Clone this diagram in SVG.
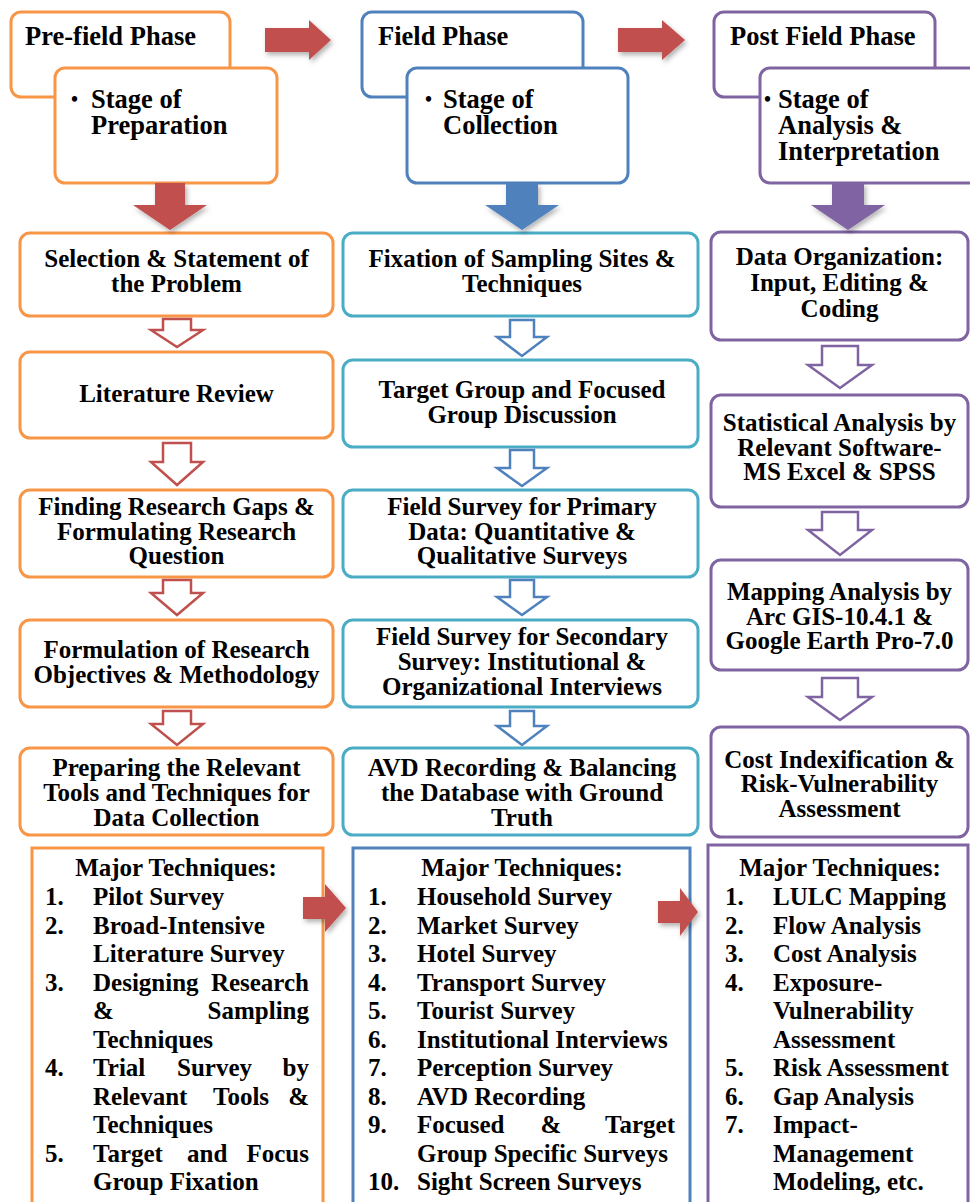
<svg xmlns="http://www.w3.org/2000/svg" width="970" height="1202" viewBox="0 0 970 1202">
<defs>
  <filter id="shadow" x="-40%" y="-40%" width="180%" height="180%">
    <feDropShadow dx="2" dy="3" stdDeviation="2.5" flood-color="#000" flood-opacity="0.3"/>
  </filter>
</defs>
<style>
  text { font-family: "Liberation Serif", "Times New Roman", serif; font-weight: bold; fill: #000; }
  .t { font-size: 25px; }
  .h { font-size: 26.5px; }
  .b { font-size: 20px; }
  .c { text-anchor: middle; }
  .e { text-anchor: end; }
  .box { fill: #fff; stroke-width: 3; }
  .or { stroke: #F79646; }
  .bl { stroke: #4F81BD; }
  .cy { stroke: #4BACC6; }
  .pu { stroke: #8064A2; }
  .hollow { fill: #fff; stroke-width: 2.5; }
  .solid { filter: url(#shadow); }
</style>
<rect width="970" height="1202" fill="#fff"/>

<!-- Phase headers -->
<g id="pre-field-phase">
  <rect class="box or" x="11" y="12" width="219" height="85" rx="10"/>
  <text class="h" x="25" y="45">Pre-field Phase</text>
</g>
<g id="stage-preparation">
  <rect class="box or" x="55" y="68" width="222" height="115" rx="10"/>
  <text class="h" x="71" y="108"><tspan class="b" dy="-2">•</tspan><tspan x="91" dy="2">Stage of</tspan><tspan x="91" dy="26">Preparation</tspan></text>
</g>
<g id="field-phase">
  <rect class="box bl" x="362" y="12" width="221" height="85" rx="10"/>
  <text class="h" x="378" y="45">Field Phase</text>
</g>
<g id="stage-collection">
  <rect class="box bl" x="407" y="68" width="221" height="115" rx="10"/>
  <text class="h" x="425" y="108"><tspan class="b" dy="-2">•</tspan><tspan x="443" dy="2">Stage of</tspan><tspan x="443" dy="26">Collection</tspan></text>
</g>
<g id="post-field-phase">
  <rect class="box pu" x="714" y="12" width="221" height="85" rx="10"/>
  <text class="h" x="730" y="45">Post Field Phase</text>
</g>
<g id="stage-analysis">
  <rect class="box pu" x="760" y="68" width="224" height="115" rx="10"/>
  <text class="h" x="764" y="108"><tspan class="b" dy="-2">•</tspan><tspan x="778" dy="2">Stage of</tspan><tspan x="778" dy="26">Analysis &amp;</tspan><tspan x="778" dy="26">Interpretation</tspan></text>
</g>

<!-- Pre-field column -->
<g id="selection">
  <rect class="box or" x="20" y="233" width="313" height="83" rx="10"/>
  <text class="t c" x="176.5" y="267">Selection &amp; Statement of<tspan x="176.5" dy="25">the Problem</tspan></text>
</g>
<g id="literature-review">
  <rect class="box or" x="20" y="352" width="313" height="86" rx="10"/>
  <text class="t c" x="176.5" y="402">Literature Review</text>
</g>
<g id="research-gaps">
  <rect class="box or" x="20" y="490" width="313" height="87" rx="10"/>
  <text class="t c" x="176.5" y="515">Finding Research Gaps &amp;<tspan x="176.5" dy="24.5">Formulating Research</tspan><tspan x="176.5" dy="24.5">Question</tspan></text>
</g>
<g id="objectives">
  <rect class="box or" x="20" y="620" width="313" height="87" rx="10"/>
  <text class="t c" x="176.5" y="658">Formulation of Research<tspan x="176.5" dy="25">Objectives &amp; Methodology</tspan></text>
</g>
<g id="tools">
  <rect class="box or" x="20" y="748" width="313" height="87" rx="10"/>
  <text class="t c" x="176.5" y="776">Preparing the Relevant<tspan x="176.5" dy="25">Tools and Techniques for</tspan><tspan x="176.5" dy="25">Data Collection</tspan></text>
</g>
<g id="pre-field-techniques">
  <rect class="box or" x="32" y="848" width="291" height="360"/>
  <text class="t c" x="176" y="876">Major Techniques:</text>
  <text class="t" x="45" y="905">1.</text><text class="t" x="93" y="905">Pilot Survey</text>
  <text class="t" x="45" y="933.5">2.</text><text class="t" x="93" y="933.5">Broad-Intensive</text>
  <text class="t" x="93" y="962">Literature Survey</text>
  <text class="t" x="45" y="990.5">3.</text><text class="t" x="93" y="990.5">Designing</text><text class="t e" x="309" y="990.5">Research</text>
  <text class="t" x="93" y="1019">&amp;</text><text class="t e" x="309" y="1019">Sampling</text>
  <text class="t" x="93" y="1047.5">Techniques</text>
  <text class="t" x="45" y="1076">4.</text><text class="t" x="93" y="1076">Trial</text><text class="t" x="177" y="1076">Survey</text><text class="t e" x="309" y="1076">by</text>
  <text class="t" x="93" y="1104.5">Relevant</text><text class="t" x="213" y="1104.5">Tools</text><text class="t e" x="309" y="1104.5">&amp;</text>
  <text class="t" x="93" y="1133">Techniques</text>
  <text class="t" x="45" y="1161.5">5.</text><text class="t" x="93" y="1161.5">Target</text><text class="t" x="187" y="1161.5">and</text><text class="t e" x="309" y="1161.5">Focus</text>
  <text class="t" x="93" y="1190">Group Fixation</text>
</g>

<!-- Field column -->
<g id="sampling-sites">
  <rect class="box cy" x="343" y="233" width="355" height="83" rx="10"/>
  <text class="t c" x="522" y="267">Fixation of Sampling Sites &amp;<tspan x="522" dy="25">Techniques</tspan></text>
</g>
<g id="group-discussion">
  <rect class="box cy" x="343" y="360" width="355" height="87" rx="10"/>
  <text class="t c" x="522" y="398">Target Group and Focused<tspan x="522" dy="25">Group Discussion</tspan></text>
</g>
<g id="primary-survey">
  <rect class="box cy" x="343" y="490" width="355" height="87" rx="10"/>
  <text class="t c" x="522" y="515">Field Survey for Primary<tspan x="522" dy="24.5">Data: Quantitative &amp;</tspan><tspan x="522" dy="24.5">Qualitative Surveys</tspan></text>
</g>
<g id="secondary-survey">
  <rect class="box cy" x="343" y="620" width="355" height="87" rx="10"/>
  <text class="t c" x="522" y="645">Field Survey for Secondary<tspan x="522" dy="25">Survey: Institutional &amp;</tspan><tspan x="522" dy="25">Organizational Interviews</tspan></text>
</g>
<g id="avd-recording">
  <rect class="box cy" x="343" y="748" width="355" height="87" rx="10"/>
  <text class="t c" x="522" y="776">AVD Recording &amp; Balancing<tspan x="522" dy="25">the Database with Ground</tspan><tspan x="522" dy="25">Truth</tspan></text>
</g>
<g id="field-techniques">
  <rect class="box bl" x="353" y="848" width="337" height="360"/>
  <text class="t c" x="522" y="876">Major Techniques:</text>
  <text class="t" x="368" y="905">1.</text><text class="t" x="417" y="905">Household Survey</text>
  <text class="t" x="368" y="933.5">2.</text><text class="t" x="417" y="933.5">Market Survey</text>
  <text class="t" x="368" y="962">3.</text><text class="t" x="417" y="962">Hotel Survey</text>
  <text class="t" x="368" y="990.5">4.</text><text class="t" x="417" y="990.5">Transport Survey</text>
  <text class="t" x="368" y="1019">5.</text><text class="t" x="417" y="1019">Tourist Survey</text>
  <text class="t" x="368" y="1047.5">6.</text><text class="t" x="417" y="1047.5">Institutional Interviews</text>
  <text class="t" x="368" y="1076">7.</text><text class="t" x="417" y="1076">Perception Survey</text>
  <text class="t" x="368" y="1104.5">8.</text><text class="t" x="417" y="1104.5">AVD Recording</text>
  <text class="t" x="368" y="1133">9.</text><text class="t" x="417" y="1133">Focused</text><text class="t c" x="551" y="1133">&amp;</text><text class="t e" x="675" y="1133">Target</text>
  <text class="t" x="417" y="1161.5">Group Specific Surveys</text>
  <text class="t" x="368" y="1190">10.</text><text class="t" x="417" y="1190">Sight Screen Surveys</text>
</g>

<!-- Post field column -->
<g id="data-organization">
  <rect class="box pu" x="711" y="232" width="257" height="108" rx="10"/>
  <text class="t c" x="839.5" y="265">Data Organization:<tspan x="839.5" dy="26">Input, Editing &amp;</tspan><tspan x="839.5" dy="26">Coding</tspan></text>
</g>
<g id="statistical-analysis">
  <rect class="box pu" x="711" y="395" width="257" height="112" rx="10"/>
  <text class="t c" x="839.5" y="431">Statistical Analysis by<tspan x="839.5" dy="25">Relevant Software-</tspan><tspan x="839.5" dy="24">MS Excel &amp; SPSS</tspan></text>
</g>
<g id="mapping-analysis">
  <rect class="box pu" x="711" y="560" width="257" height="110" rx="10"/>
  <text class="t c" x="839.5" y="600">Mapping Analysis by<tspan x="839.5" dy="25">Arc GIS-10.4.1 &amp;</tspan><tspan x="839.5" dy="24">Google Earth Pro-7.0</tspan></text>
</g>
<g id="cost-indexification">
  <rect class="box pu" x="711" y="727" width="257" height="110" rx="10"/>
  <text class="t c" x="839.5" y="768">Cost Indexification &amp;<tspan x="839.5" dy="24">Risk-Vulnerability</tspan><tspan x="839.5" dy="25">Assessment</tspan></text>
</g>
<g id="post-field-techniques">
  <rect class="box pu" x="708" y="845" width="260" height="363"/>
  <text class="t c" x="840" y="876">Major Techniques:</text>
  <text class="t" x="725" y="905">1.</text><text class="t" x="773" y="905">LULC Mapping</text>
  <text class="t" x="725" y="933.5">2.</text><text class="t" x="773" y="933.5">Flow Analysis</text>
  <text class="t" x="725" y="962">3.</text><text class="t" x="773" y="962">Cost Analysis</text>
  <text class="t" x="725" y="990.5">4.</text><text class="t" x="773" y="990.5">Exposure-</text>
  <text class="t" x="773" y="1019">Vulnerability</text>
  <text class="t" x="773" y="1047.5">Assessment</text>
  <text class="t" x="725" y="1076">5.</text><text class="t" x="773" y="1076">Risk Assessment</text>
  <text class="t" x="725" y="1104.5">6.</text><text class="t" x="773" y="1104.5">Gap Analysis</text>
  <text class="t" x="725" y="1133">7.</text><text class="t" x="773" y="1133">Impact-</text>
  <text class="t" x="773" y="1161.5">Management</text>
  <text class="t" x="773" y="1190">Modeling, etc.</text>
</g>

<!-- Connectors -->
<g id="connectors">
  <!-- phase-to-phase block arrows -->
  <polygon class="solid" fill="#C0504D" points="265,28 309,28 309,20 331,40 309,60 309,52 265,52"/>
  <polygon class="solid" fill="#C0504D" points="618,28 662,28 662,20 685,40 662,60 662,52 618,52"/>
  <!-- stage-to-step block arrows -->
  <polygon class="solid" fill="#C0504D" points="155,183 185,183 185,205 207,205 170,230 133,205 155,205"/>
  <polygon class="solid" fill="#4F81BD" points="506,183 538,183 538,205 559,205 522,230 485,205 506,205"/>
  <polygon class="solid" fill="#8064A2" points="832,183 864,183 864,205 885,205 848,230 811,205 832,205"/>
  <!-- pre-field step arrows -->
  <polygon class="hollow" stroke="#C0504D" points="163,319 191,319 191,330 203,330 177,347 151,330 163,330"/>
  <polygon class="hollow" stroke="#C0504D" points="163,443 191,443 191,462 203,462 177,485 151,462 163,462"/>
  <polygon class="hollow" stroke="#C0504D" points="163,580 191,580 191,593 203,593 177,615 151,593 163,593"/>
  <polygon class="hollow" stroke="#C0504D" points="163,711 191,711 191,724 203,724 177,745 151,724 163,724"/>
  <!-- field step arrows -->
  <polygon class="hollow" stroke="#4F81BD" points="510,320 534,320 534,337 547,337 522,356 497,337 510,337"/>
  <polygon class="hollow" stroke="#4F81BD" points="510,450 534,450 534,468 547,468 522,486 497,468 510,468"/>
  <polygon class="hollow" stroke="#4F81BD" points="510,580 534,580 534,597 547,597 522,615 497,597 510,597"/>
  <polygon class="hollow" stroke="#4F81BD" points="510,711 534,711 534,726 547,726 522,745 497,726 510,726"/>
  <!-- post field step arrows -->
  <polygon class="hollow" stroke="#8064A2" points="822,346 858,346 858,365 872,365 840,388 808,365 822,365"/>
  <polygon class="hollow" stroke="#8064A2" points="822,512 858,512 858,530 872,530 840,555 808,530 822,530"/>
  <polygon class="hollow" stroke="#8064A2" points="822,678 858,678 858,697 872,697 840,720 808,697 822,697"/>
  <!-- technique-to-technique block arrows -->
  <polygon class="solid" fill="#C0504D" points="303,897 325,897 325,884 346,908 325,932 325,919 303,919"/>
  <polygon class="solid" fill="#C0504D" points="658,901 680,901 680,888 698,912 680,936 680,923 658,923"/>
</g>
</svg>
